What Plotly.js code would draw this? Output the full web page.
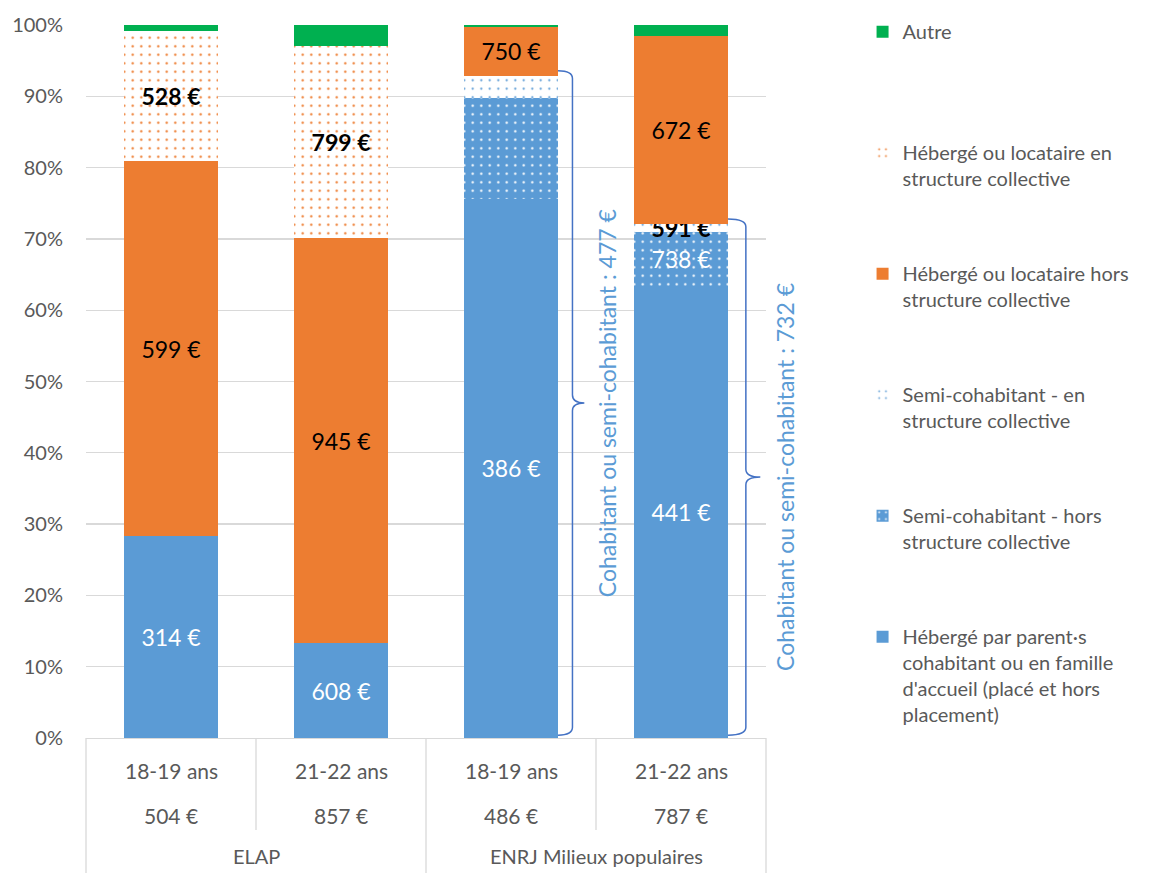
<!DOCTYPE html>
<html>
<head>
<meta charset="utf-8">
<script src="https://cdn.plot.ly/plotly-3.0.1.min.js"></script>
<style>html,body{margin:0;padding:0;background:#fff;}#chart{width:1161px;height:873px;}</style>
</head>
<body>
<div id="chart"></div>
<script>
// ---- Data ----
const ages = ["18-19 ans", "21-22 ans", "18-19 ans", "21-22 ans"];
const totals = ["504 €", "857 €", "486 €", "787 €"];
const groups = ["ELAP", "ENRJ Milieux populaires"];

const parents    = [28.3, 13.3, 75.6, 63.3];
const semiHors   = [0, 0, 14.2, 7.7];
const semiEn     = [0, 0, 3.1, 1.1];
const hors       = [52.6, 56.8, 6.8, 26.4];
const collective = [18.3, 27.0, 0, 0];
const autre      = [0.8, 2.9, 0.3, 1.5];

const parentsLbl    = ["314 €", "608 €", "386 €", "441 €"];
const semiHorsLbl   = ["", "", "", "738 €"];
const semiEnLbl     = ["", "", "", "591 €"];
const horsLbl       = ["599 €", "945 €", "750 €", "672 €"];
const collectiveLbl = ["528 €", "799 €", "", ""];

const braceBars = [2, 3];
const braceAmounts = ["477 €", "732 €"];
const braceText = "Cohabitant ou semi-cohabitant : ";

const seriesNames = [
  "Hébergé par parent·s<br>cohabitant ou en famille<br>d'accueil (placé et hors<br>placement)",
  "Semi-cohabitant - hors<br>structure collective",
  "Semi-cohabitant - en<br>structure collective",
  "Hébergé ou locataire hors<br>structure collective",
  "Hébergé ou locataire en<br>structure collective",
  "Autre"
];

// ---- Styling ----
const FONT = 'Lato, "Open Sans", sans-serif';
const GREY = '#595959';
const BLUE = '#5B9BD5';
const ORANGE = '#ED7D31';
const GREEN = '#00B050';
const BAR_W = 0.553;

const xs = ages.map((_, i) => i);
const n = ages.length;
const toPaperX = (x) => (x + 0.5) / n;

function pad(name, k) {
  const lines = name.split('<br>');
  while (lines.length < k) lines.push('\u00a0');
  return lines.join('<br>');
}

function barTrace(idx, y, color, labels, txtColor, bold, pattern) {
  const t = {
    type: 'bar', x: xs, y: y, name: pad(seriesNames[idx], 4),
    legendgroup: 'g' + idx, legendrank: 100 - idx,
    marker: {color: color, line: {width: 0}},
    text: labels,
    texttemplate: bold ? '<b>%{text}</b>' : '%{text}',
    textposition: 'inside', insidetextanchor: 'middle', textangle: 0,
    constraintext: 'none',
    textfont: {family: FONT, size: 23, color: txtColor},
    hoverinfo: 'skip'
  };
  if (pattern) t.marker.pattern = pattern;
  return t;
}

const data = [
  barTrace(0, parents, BLUE, parentsLbl, '#ffffff', false),
  barTrace(1, semiHors, BLUE, semiHorsLbl, '#ffffff', false,
    {shape: '.', bgcolor: BLUE, fgcolor: '#ffffff', size: 8.5, solidity: 0.06}),
  barTrace(2, semiEn, BLUE, semiEnLbl, '#000000', true,
    {shape: '.', bgcolor: '#ffffff', fgcolor: BLUE, size: 8.5, solidity: 0.05}),
  barTrace(3, hors, ORANGE, horsLbl, '#000000', false),
  barTrace(4, collective, ORANGE, collectiveLbl, '#000000', true,
    {shape: '.', bgcolor: '#ffffff', fgcolor: ORANGE, size: 8.5, solidity: 0.06}),
  barTrace(5, autre, GREEN, autre.map(() => ''), '#000000', false)
];

// ---- Category axis (3 levels) drawn as annotations + lines ----
const annotations = [];
const shapes = [];
const ROW1 = -0.045, ROW2 = -0.108, ROW3 = -0.166, INNER_END = -0.129, OUTER_END = -0.19;
const AXFONT = {family: FONT, size: 21, color: GREY};

ages.forEach((a, i) => {
  annotations.push({x: i, xref: 'x', y: ROW1, yref: 'paper', text: a, showarrow: false,
    font: AXFONT, xanchor: 'center', yanchor: 'middle'});
  annotations.push({x: i, xref: 'x', y: ROW2, yref: 'paper', text: totals[i], showarrow: false,
    font: AXFONT, xanchor: 'center', yanchor: 'middle'});
});
groups.forEach((g, k) => {
  annotations.push({x: 2 * k + 0.5, xref: 'x', y: ROW3, yref: 'paper', text: g, showarrow: false,
    font: {family: FONT, size: 20, color: GREY}, xanchor: 'center', yanchor: 'middle'});
});
for (let k = 0; k <= n; k++) {
  const full = (k % 2 === 0);
  shapes.push({type: 'line', xref: 'paper', yref: 'paper', x0: k / n, x1: k / n,
    y0: 0, y1: full ? OUTER_END : INNER_END, line: {color: '#d9d9d9', width: 1.3}});
}

// ---- Braces for cohabitant / semi-cohabitant ----
braceBars.forEach((b, j) => {
  const top = parents[b] + semiHors[b] + semiEn[b] + 0.7;
  const bot = 0.4;
  const xa = b + BAR_W / 2;
  const xv = xa + (j === 0 ? 0.085 : 0.105);
  const xt = xa + (j === 0 ? 0.155 : 0.19);
  const mid = (top + bot) / 2;
  const r = 1.1;
  const path = `M ${xa},${top} Q ${xv},${top} ${xv},${top - r} L ${xv},${mid + r} ` +
    `Q ${xv},${mid} ${xt},${mid} Q ${xv},${mid} ${xv},${mid - r} L ${xv},${bot + r} ` +
    `Q ${xv},${bot} ${xa},${bot}`;
  shapes.push({type: 'path', xref: 'x', yref: 'y', path: path,
    line: {color: '#4472C4', width: 1.5}});
  annotations.push({x: toPaperX(xa + (j === 0 ? 0.29 : 0.335)), xref: 'paper', y: mid, yref: 'y',
    text: braceText + braceAmounts[j], textangle: -90, showarrow: false,
    font: {family: FONT, size: 23, color: BLUE}, xanchor: 'center', yanchor: 'middle'});
});

const layout = {
  width: 1161, height: 873,
  margin: {l: 86, r: 395, t: 25, b: 135},
  paper_bgcolor: '#ffffff', plot_bgcolor: '#ffffff',
  barmode: 'stack', bargap: 1 - BAR_W,
  font: {family: FONT, color: GREY},
  xaxis: {range: [-0.5, n - 0.5], showticklabels: false, showgrid: false, zeroline: false,
    showline: true, linecolor: '#d9d9d9', linewidth: 1.3, ticks: '', fixedrange: true},
  yaxis: {range: [0, 100], dtick: 10, ticksuffix: '%', showgrid: true, gridcolor: '#d9d9d9',
    gridwidth: 1.3, zeroline: false, showline: false, ticks: '', ticklabelstandoff: 22,
    tickfont: {family: FONT, size: 20, color: GREY}, fixedrange: true},
  showlegend: true,
  legend: {x: 1.142, xanchor: 'left', y: 1.018, yanchor: 'top', valign: 'top',
    traceorder: 'grouped', tracegroupgap: 14, maxheight: 870,
    font: {family: FONT, size: 20, color: GREY}, bgcolor: 'rgba(0,0,0,0)', borderwidth: 0},
  annotations: annotations,
  shapes: shapes
};

Plotly.newPlot('chart', data, layout, {displayModeBar: false, staticPlot: true});
</script>
</body>
</html>
